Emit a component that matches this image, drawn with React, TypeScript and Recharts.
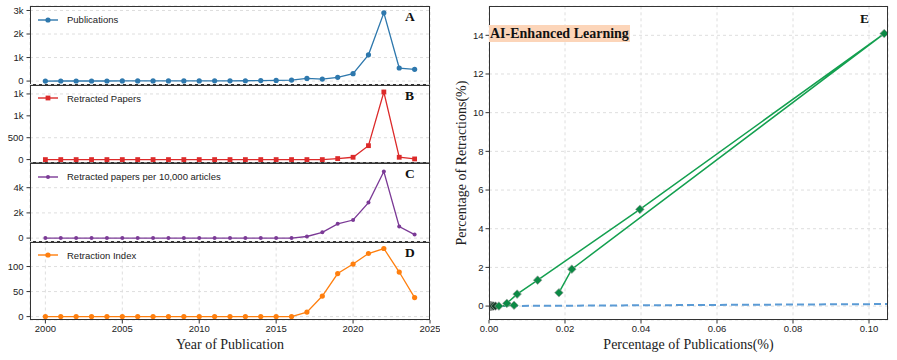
import React from "react";
import { CartesianGrid, ComposedChart, Line, LineChart, XAxis, YAxis } from "recharts";

const SANS = '"Liberation Sans", Arial, sans-serif';
const SERIF = '"Liberation Serif", "Times New Roman", serif';
const TICK = { fontSize: 9.5, fill: "#222", fontFamily: SANS };
const GRID = "#dedede";

// yearly series (panels A-D)
const years = [
  2000, 2001, 2002, 2003, 2004, 2005, 2006, 2007, 2008, 2009, 2010, 2011, 2012,
  2013, 2014, 2015, 2016, 2017, 2018, 2019, 2020, 2021, 2022, 2023, 2024,
];
const publications = [2, 3, 3, 4, 4, 5, 5, 6, 7, 8, 9, 10, 12, 15, 20, 30, 45, 115, 85, 160, 315, 1115, 2900, 555, 500];
const retracted = [0, 0, 0, 0, 0, 0, 0, 0, 0, 0, 0, 0, 0, 0, 0, 0, 0, 0, 0, 23, 53, 318, 1545, 53, 15];
const per10k = [0, 0, 0, 0, 0, 0, 0, 0, 0, 0, 0, 0, 0, 0, 0, 0, 0, 128, 460, 1130, 1435, 2820, 5280, 920, 280];
const retractionIndex = [0, 0, 0, 0, 0, 0, 0, 0, 0, 0, 0, 0, 0, 0, 0, 0, 0, 9, 41, 86, 105, 126, 136, 89, 38];
const yearTicks = [2000, 2005, 2010, 2015, 2020, 2025];

// panel E: share of publications vs share of retractions (%), in year order
const pubShare = [
  0.0001, 0.0002, 0.0002, 0.0002, 0.0002, 0.0003, 0.0003, 0.0003, 0.0004, 0.0005, 0.0005,
  0.0006, 0.0007, 0.0009, 0.0012, 0.0017, 0.0026, 0.0066, 0.0047, 0.0074, 0.0128, 0.0397,
  0.104, 0.0218, 0.0184,
];
const retractShare = [
  0, 0, 0, 0, 0, 0, 0, 0, 0, 0, 0, 0, 0, 0, 0, 0, 0, 0.04, 0.14, 0.62, 1.34, 5.0, 14.09, 1.91, 0.69,
];
const diagX = [0, 0.105];
const diagY = [0, 0.105];
const eXTicks = [0, 0.02, 0.04, 0.06, 0.08, 0.1];
const eYTicks = [0, 2, 4, 6, 8, 10, 12, 14];

const rows = years.map((year, i) => ({
  year,
  publications: publications[i],
  retracted: retracted[i],
  per10k: per10k[i],
  index: retractionIndex[i],
}));
const eRows = pubShare.map((x, i) => ({ x, y: retractShare[i] }));
const diagRows = diagX.map((x, i) => ({ x, y: diagY[i] }));

const kFmt = (v: number) => (v >= 1000 ? `${Math.floor(v / 1000)}k` : `${v}`);

type Marker = "circle" | "square" | "small";
const PANELS: {
  key: string;
  name: string;
  color: string;
  top: number;
  bottom: number;
  domain: [number, number];
  ticks: number[];
  marker: Marker;
  letter: string;
}[] = [
  { key: "publications", name: "Publications", color: "#2e78ad", top: 6, bottom: 84.5, domain: [-145, 3190], ticks: [0, 1000, 2000, 3000], marker: "circle", letter: "A" },
  { key: "retracted", name: "Retracted Papers", color: "#dc2a2a", top: 84.5, bottom: 163, domain: [-78, 1716], ticks: [0, 500, 1000, 1500], marker: "square", letter: "B" },
  { key: "per10k", name: "Retracted papers per 10,000 articles", color: "#7b3a96", top: 163, bottom: 241.5, domain: [-270, 5960], ticks: [0, 2000, 4000], marker: "small", letter: "C" },
  { key: "index", name: "Retraction Index", color: "#ff7f0e", top: 241.5, bottom: 320, domain: [-6.8, 150], ticks: [0, 50, 100], marker: "circle", letter: "D" },
];

const LEFT = 30;
const RIGHT = 430;

function markerDot(marker: Marker, color: string) {
  if (marker === "square")
    return (p: any) => (
      <rect key={`m${p.index}`} x={p.cx - 2.4} y={p.cy - 2.4} width={4.8} height={4.8} fill={color} />
    );
  const r = marker === "small" ? 2 : 2.6;
  return (p: any) => <circle key={`m${p.index}`} cx={p.cx} cy={p.cy} r={r} fill={color} />;
}

function LegendIcon({ marker, color }: { marker: Marker; color: string }) {
  return (
    <svg width={22} height={8} style={{ marginRight: 8 }}>
      <line x1={1} y1={4} x2={21} y2={4} stroke={color} strokeWidth={1.4} />
      {marker === "square" ? (
        <rect x={8.6} y={1.6} width={4.8} height={4.8} fill={color} />
      ) : (
        <circle cx={11} cy={4} r={marker === "small" ? 2 : 2.6} fill={color} />
      )}
    </svg>
  );
}

function Panel({ p, last }: { p: (typeof PANELS)[number]; last: boolean }) {
  return (
    <>
      <div style={{ position: "absolute", left: 0, top: 0 }}>
        <LineChart
          width={440}
          height={360}
          data={rows}
          margin={{ top: p.top, right: 440 - RIGHT, bottom: last ? 20 : 360 - p.bottom, left: 0 }}
        >
          <CartesianGrid stroke={GRID} strokeDasharray="3 3" />
          <XAxis
            type="number"
            dataKey="year"
            domain={[1999, 2025]}
            ticks={yearTicks}
            allowDataOverflow
            tick={last ? TICK : false}
            tickLine={last ? { stroke: "#333" } : false}
            tickSize={3.5}
            tickMargin={2}
            axisLine={false}
            height={last ? 20 : 0}
          />
          <YAxis
            type="number"
            domain={p.domain}
            ticks={p.ticks}
            allowDataOverflow
            tick={TICK}
            tickFormatter={kFmt}
            tickLine={{ stroke: "#333" }}
            tickSize={3.5}
            tickMargin={3}
            axisLine={false}
            width={LEFT}
          />
          <Line
            type="linear"
            dataKey={p.key}
            stroke={p.color}
            strokeWidth={1.3}
            dot={markerDot(p.marker, p.color)}
            isAnimationActive={false}
          />
        </LineChart>
      </div>
      <div
        style={{
          position: "absolute",
          left: LEFT,
          top: p.top,
          width: RIGHT - LEFT,
          height: p.bottom - p.top,
          boxSizing: "border-box",
          border: "1.2px solid #333",
          pointerEvents: "none",
        }}
      />
      <div
        style={{
          position: "absolute",
          left: 37,
          top: p.top + 8,
          display: "flex",
          alignItems: "center",
          fontFamily: SANS,
          fontSize: 9.5,
          color: "#222",
        }}
      >
        <LegendIcon marker={p.marker} color={p.color} />
        {p.name}
      </div>
      <div
        style={{
          position: "absolute",
          left: 405,
          top: p.top + 3,
          fontFamily: SERIF,
          fontWeight: "bold",
          fontSize: 13.5,
          color: "#111",
        }}
      >
        {p.letter}
      </div>
    </>
  );
}

function diamondDot(p: any) {
  const s = 4.3;
  return (
    <path
      key={`d${p.index}`}
      d={`M${p.cx},${p.cy - s}L${p.cx + s},${p.cy}L${p.cx},${p.cy + s}L${p.cx - s},${p.cy}Z`}
      fill={p.index < 16 ? "#123c26" : "#0b8a45"}
      stroke="#a0a0a0"
      strokeWidth={0.7}
    />
  );
}

function PanelE() {
  return (
    <>
      <div style={{ position: "absolute", left: 0, top: 0 }}>
        <ComposedChart width={897} height={360} margin={{ top: 6.3, right: 9, bottom: 20, left: 459 }}>
          <CartesianGrid stroke={GRID} strokeDasharray="3 3" />
          <XAxis
            type="number"
            dataKey="x"
            domain={[0, 0.105]}
            ticks={eXTicks}
            allowDataOverflow
            tick={TICK}
            tickFormatter={(v: number) => v.toFixed(2)}
            tickLine={{ stroke: "#333" }}
            tickSize={3.5}
            tickMargin={2}
            axisLine={false}
            height={20}
          />
          <YAxis
            type="number"
            dataKey="y"
            domain={[-0.72, 15.5]}
            ticks={eYTicks}
            allowDataOverflow
            tick={TICK}
            tickLine={{ stroke: "#333" }}
            tickSize={3.5}
            tickMargin={2}
            axisLine={false}
            width={30}
          />
          <Line
            data={diagRows}
            type="linear"
            dataKey="y"
            stroke="#5b9bd5"
            strokeWidth={2}
            strokeDasharray="7 4"
            dot={false}
            isAnimationActive={false}
          />
          <Line
            data={eRows}
            type="linear"
            dataKey="y"
            stroke="#14a050"
            strokeWidth={1.5}
            dot={diamondDot}
            isAnimationActive={false}
          />
        </ComposedChart>
      </div>
      <div
        style={{
          position: "absolute",
          left: 489,
          top: 6.3,
          width: 399,
          height: 313.7,
          boxSizing: "border-box",
          border: "1.2px solid #333",
          pointerEvents: "none",
        }}
      />
      <div
        style={{
          position: "absolute",
          left: 489,
          top: 25,
          padding: "0 1px",
          background: "#fcd5b9",
          fontFamily: SERIF,
          fontWeight: "bold",
          fontSize: 14,
          lineHeight: "17px",
          color: "#111",
        }}
      >
        AI-Enhanced Learning
      </div>
      <div
        style={{
          position: "absolute",
          left: 860,
          top: 11,
          fontFamily: SERIF,
          fontWeight: "bold",
          fontSize: 13.5,
          color: "#111",
        }}
      >
        E
      </div>
    </>
  );
}

export default function App() {
  return (
    <div
      style={{
        position: "absolute",
        left: 0,
        top: 0,
        width: 897,
        height: 360,
        background: "#fff",
        overflow: "hidden",
      }}
    >
      {PANELS.map((p, i) => (
        <Panel key={p.key} p={p} last={i === PANELS.length - 1} />
      ))}
      <PanelE />
      <div
        style={{
          position: "absolute",
          left: 30,
          width: 400,
          top: 337,
          textAlign: "center",
          fontFamily: SERIF,
          fontSize: 14,
          color: "#222",
        }}
      >
        Year of Publication
      </div>
      <div
        style={{
          position: "absolute",
          left: 489,
          width: 399,
          top: 337,
          textAlign: "center",
          fontFamily: SERIF,
          fontSize: 14,
          color: "#222",
        }}
      >
        Percentage of Publications(%)
      </div>
      <div
        style={{
          position: "absolute",
          left: 462,
          top: 163,
          transform: "translate(-50%, -50%) rotate(-90deg)",
          whiteSpace: "nowrap",
          fontFamily: SERIF,
          fontSize: 14,
          color: "#222",
        }}
      >
        Percentage of Retractions(%)
      </div>
    </div>
  );
}
